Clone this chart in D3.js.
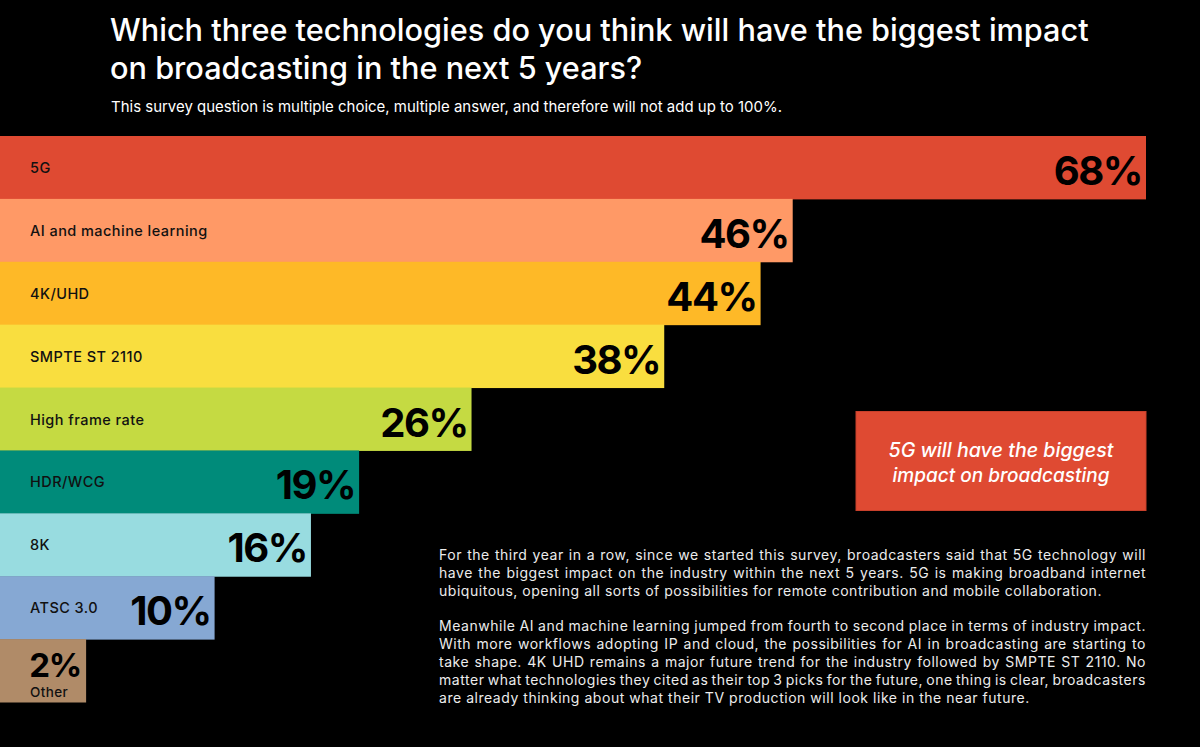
<!DOCTYPE html>
<html>
<head>
<meta charset="utf-8">
<script src="https://cdn.jsdelivr.net/npm/d3@7"></script>
<style>
  html, body { margin: 0; padding: 0; background: #000; }
  svg { display: block; }
</style>
</head>
<body>
<svg id="chart" width="1200" height="747"></svg>
<script>
// ---- data ----
const categories = ["5G", "AI and machine learning", "4K/UHD", "SMPTE ST 2110", "High frame rate", "HDR/WCG", "8K", "ATSC 3.0", "Other"];
const values = [68, 46, 44, 38, 26, 19, 16, 10, 2];
const barColors = ["#DF4A32", "#FF9966", "#FEB927", "#F9DE3F", "#C5DA42", "#008B7A", "#98DCE0", "#86A8D3", "#B08B68"];
const titleLines = ["Which three technologies do you think will have the biggest impact", "on broadcasting in the next 5 years?"];
const subtitle = "This survey question is multiple choice, multiple answer, and therefore will not add up to 100%.";
const calloutLines = ["5G will have the biggest", "impact on broadcasting"];
const paragraphs = [
  ["For the third year in a row, since we started this survey, broadcasters said that 5G technology will",
   "have the biggest impact on the industry within the next 5 years. 5G is making broadband internet",
   "ubiquitous, opening all sorts of possibilities for remote contribution and mobile collaboration."],
  ["Meanwhile AI and machine learning jumped from fourth to second place in terms of industry impact.",
   "With more workflows adopting IP and cloud, the possibilities for AI in broadcasting are starting to",
   "take shape. 4K UHD remains a major future trend for the industry followed by SMPTE ST 2110. No",
   "matter what technologies they cited as their top 3 picks for the future, one thing is clear, broadcasters",
   "are already thinking about what their TV production will look like in the near future."]
];

const FONT = "Inter, 'Noto Sans', 'DejaVu Sans', sans-serif";
const svg = d3.select("#chart");
svg.append("rect").attr("width", 1200).attr("height", 747).attr("fill", "#000");

function fitWidth(sel, target) {
  const node = sel.node();
  const fs = parseFloat(sel.attr("font-size"));
  const w = node.getComputedTextLength();
  sel.attr("font-size", (fs * target / w).toFixed(2));
}

// ---- title ----
const title = svg.append("g");
const t1 = title.append("text").attr("x", 110).attr("y", 41).attr("fill", "#fff")
  .attr("font-family", FONT).attr("font-weight", 500).attr("font-size", 30).text(titleLines[0]);
fitWidth(t1, 979);
const tfs = t1.attr("font-size");
title.append("text").attr("x", 110).attr("y", 79).attr("fill", "#fff")
  .attr("font-family", FONT).attr("font-weight", 500).attr("font-size", tfs).text(titleLines[1]);
const st = svg.append("text").attr("x", 111).attr("y", 112).attr("fill", "#fff")
  .attr("font-family", FONT).attr("font-weight", 400).attr("font-size", 14).text(subtitle);
fitWidth(st, 671);

// ---- scales ----
const y = d3.scaleBand().domain(categories).range([136, 702]).padding(0);
const x = d3.scaleLinear().domain([0, 68]).range([54, 1146]);
const color = d3.scaleOrdinal().domain(categories).range(barColors);

const data = categories.map((c, i) => ({ cat: c, val: values[i] }));

const bars = svg.append("g");
bars.selectAll("rect").data(data).join("rect")
  .attr("x", 0)
  .attr("y", d => y(d.cat))
  .attr("width", d => x(d.val))
  .attr("height", y.bandwidth() + 0.5)
  .attr("fill", d => color(d.cat));

const main = data.filter(d => d.cat !== "Other");
const other = data.find(d => d.cat === "Other");

// category labels
bars.selectAll("text.cat").data(main).join("text").attr("class", "cat")
  .attr("x", 30)
  .attr("y", d => y(d.cat) + 37)
  .attr("fill", "#111")
  .attr("font-family", FONT).attr("font-weight", 500).attr("font-size", 14.5)
  .attr("letter-spacing", 0.45)
  .text(d => d.cat);

// value labels
bars.selectAll("text.val").data(main).join("text").attr("class", "val")
  .attr("x", d => x(d.val) - 4)
  .attr("y", d => y(d.cat) + 49)
  .attr("text-anchor", "end")
  .attr("fill", "#000")
  .attr("font-family", FONT).attr("font-weight", 700).attr("font-size", 40)
  .attr("letter-spacing", -1.5)
  .text(d => d.val + "%");

// "Other" bar labels
bars.append("text")
  .attr("x", x(other.val) - 5)
  .attr("y", y(other.cat) + 38)
  .attr("text-anchor", "end")
  .attr("fill", "#000")
  .attr("font-family", FONT).attr("font-weight", 700).attr("font-size", 33)
  .attr("letter-spacing", -1.2)
  .text(other.val + "%");
bars.append("text")
  .attr("x", 30)
  .attr("y", y(other.cat) + 58)
  .attr("fill", "#111")
  .attr("font-family", FONT).attr("font-weight", 500).attr("font-size", 13.5)
  .attr("letter-spacing", 0.4)
  .text(other.cat);

// ---- callout ----
const call = svg.append("g");
call.append("rect").attr("x", 856).attr("y", 411.5).attr("width", 290).attr("height", 99)
  .attr("fill", "#DF4A32").attr("stroke", "#C8402B").attr("stroke-width", 1);
calloutLines.forEach((l, i) => {
  const t = call.append("text").attr("x", 1001).attr("y", 457 + i * 24.5)
    .attr("text-anchor", "middle").attr("fill", "#fff")
    .attr("font-family", FONT).attr("font-style", "italic").attr("font-weight", 500)
    .attr("font-size", 19).text(l);
  if (i === 0) fitWidth(t, 225);
});

// ---- paragraphs (justified) ----
const para = svg.append("g");
const px0 = 439, px1 = 1146;
const pfs = 14;
// letter spacing chosen so that the last line of paragraph 1 spans the reference width
const probe = para.append("text").attr("font-family", FONT).attr("font-size", pfs).text(paragraphs[0][2]);
const natural = probe.node().getComputedTextLength();
probe.remove();
const ls = (663 - natural) / paragraphs[0][2].length;
const lineTops = [[560, 578, 596], [631, 649, 667, 685, 703]];
paragraphs.forEach((lines, pi) => {
  lines.forEach((line, li) => {
    const yy = lineTops[pi][li];
    const last = li === lines.length - 1;
    const words = line.split(" ");
    const g = para.append("text").attr("y", yy).attr("fill", "#ececec")
      .attr("font-family", FONT).attr("font-weight", 400).attr("font-size", pfs)
      .attr("letter-spacing", ls.toFixed(3));
    if (last) {
      g.attr("x", px0).text(line);
      return;
    }
    const tmp = [];
    words.forEach(w => {
      const t = para.append("text").attr("font-family", FONT).attr("font-size", pfs)
        .attr("letter-spacing", ls.toFixed(3)).text(w);
      tmp.push(t.node().getComputedTextLength());
      t.remove();
    });
    const total = d3.sum(tmp);
    const gap = (px1 - px0 - total) / (words.length - 1);
    let cx = px0;
    words.forEach((w, wi) => {
      g.append("tspan").attr("x", cx).text(w);
      cx += tmp[wi] + gap;
    });
  });
});
</script>
</body>
</html>
